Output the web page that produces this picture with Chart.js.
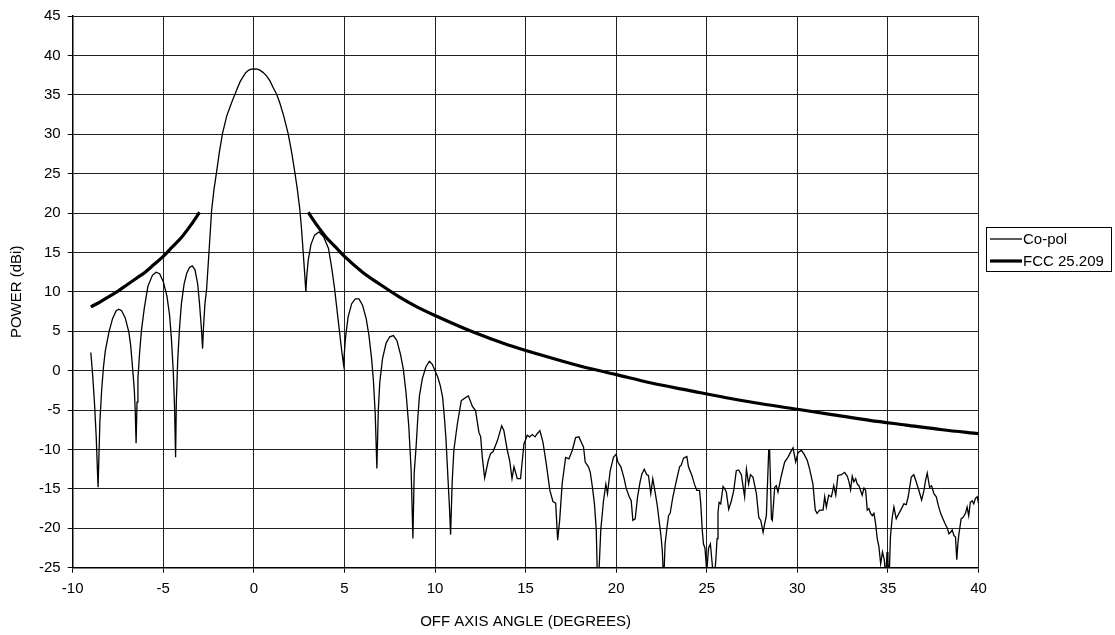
<!DOCTYPE html>
<html>
<head>
<meta charset="utf-8">
<script src="https://cdn.jsdelivr.net/npm/chart.js@4.4.0/dist/chart.umd.min.js"></script>
<style>
html,body{margin:0;padding:0;background:#fff;}
#wrap{width:1115px;height:635px;}
</style>
</head>
<body>
<div id="wrap"><canvas id="c" width="1115" height="635"></canvas></div>
<script>
// ---- data ----
const xTickValues = [-10,-5,0,5,10,15,20,25,30,35,40];
const yTickValues = [-25,-20,-15,-10,-5,0,5,10,15,20,25,30,35,40,45];

const copolX = [
-9.0,-8.9,-8.8,-8.7,-8.6,-8.5,-8.4,-8.3,-8.2,-8.0,-7.8,-7.6,-7.45,-7.3,-7.1,-6.9,-6.8,-6.7,-6.6,-6.55,-6.5,
-6.45,-6.4,-6.3,-6.2,-6.05,-5.85,-5.6,-5.4,-5.2,-5.0,-4.8,-4.65,-4.55,-4.45,-4.38,-4.32,
-4.28,-4.2,-4.1,-4.0,-3.85,-3.7,-3.55,-3.4,-3.25,-3.1,-3.0,-2.9,-2.83,
-2.78,-2.7,-2.61,-2.45,-2.33,-2.2,-2.06,-1.9,-1.73,-1.5,-1.23,-0.9,-0.75,-0.59,-0.45,-0.3,-0.15,0.05,0.2,0.35,0.5,0.7,0.88,1.05,1.25,1.43,1.65,1.89,2.08,2.26,2.4,2.54,2.63,2.72,2.8,2.87,
2.92,3.0,3.15,3.35,3.6,3.85,4.12,4.3,4.45,4.6,4.75,4.85,4.95,
5.05,5.2,5.4,5.6,5.8,6.0,6.2,6.35,6.5,6.6,6.7,6.79,
6.87,6.95,7.1,7.3,7.5,7.7,7.9,8.1,8.25,8.4,8.55,8.68,8.78,
8.85,8.96,9.05,9.14,9.3,9.5,9.69,9.85,10.0,10.15,10.3,10.42,10.52,10.6,10.7,10.8,10.86,
10.95,11.04,11.23,11.45,11.69,11.84,12.06,12.24,12.42,12.52,12.61,12.74,12.94,13.07,13.2,13.44,13.68,13.8,13.99,14.12,14.25,14.36,14.54,14.72,14.91,
15.09,15.22,15.37,15.52,15.64,15.79,15.96,16.14,16.34,16.51,16.66,16.77,16.88,17.02,17.21,17.39,17.58,17.76,17.94,18.1,18.2,18.29,18.47,18.57,18.69,18.8,18.9,18.97,19.05,19.15,19.3,19.43,19.52,19.67,19.85,
20.0,20.09,20.26,20.44,20.55,20.72,20.83,20.92,21.05,21.18,21.32,21.42,21.55,21.69,21.78,21.91,22.02,22.15,22.28,22.39,22.48,22.55,22.62,22.7,22.8,22.89,22.98,23.13,23.35,23.5,23.59,23.72,23.9,23.99,24.18,24.32,24.45,24.6,24.67,24.75,24.82,24.9,
25.0,25.1,25.2,25.3,25.4,25.5,25.57,25.62,25.68,25.77,25.9,25.99,26.08,26.21,26.36,26.49,26.63,26.76,26.91,27.09,27.19,27.31,27.41,27.55,27.74,27.87,27.98,28.11,28.2,28.29,28.42,28.47,28.57,28.62,28.75,28.84,28.93,29.12,29.3,29.48,29.61,29.76,29.91,
30.04,30.22,30.37,30.55,30.68,30.86,30.99,31.09,31.23,31.42,31.51,31.6,31.73,31.88,32.01,32.12,32.24,32.43,32.61,32.76,32.85,32.94,33.03,33.12,33.22,33.31,33.4,33.49,33.58,33.68,33.77,33.86,33.95,34.04,34.14,34.23,34.32,34.41,34.5,34.6,34.7,34.8,34.88,34.95,
35.0,35.06,35.14,35.24,35.33,35.46,35.61,35.75,35.88,36.01,36.12,36.2,36.29,36.43,36.56,36.71,36.86,36.99,37.08,37.17,37.3,37.41,37.54,37.67,37.78,37.91,38.0,38.15,38.28,38.37,38.46,38.55,38.64,38.73,38.8,38.86,38.91,39.04,39.15,39.28,39.37,39.46,39.55,39.65,39.74,39.83,39.93,40.0
];
const copolY = [
2.3,-0.5,-4,-8.5,-14.8,-6.5,-2.4,0.5,2.5,4.9,6.6,7.6,7.8,7.6,6.7,4.9,3.2,0.5,-2.4,-5,-9.2,
-4,-1,2.5,5.2,7.9,10.7,12.1,12.5,12.3,11.3,9.5,7,4,0,-4.5,-11,
-4,1.5,5.5,8.5,11,12.4,13.1,13.3,12.8,11,8.5,5.5,2.8,
5.5,8.5,10.3,16,20.4,23,25.2,27.8,30.1,32.3,34,35.9,36.7,37.3,37.8,38.1,38.25,38.3,38.25,38.1,37.85,37.4,36.8,36,35.1,34,32.3,30.1,27.8,25.2,23,20.4,18,15.1,12.5,10,
12,14,16,17.2,17.6,17,15.5,13,10.5,7.5,4.5,2.5,0.8,
4,6.8,8.5,9.1,9.1,8.3,6.6,4.5,1.5,-1.3,-5.5,-12.4,
-5,-1.5,1.5,3.5,4.3,4.45,3.8,2,0.2,-2.8,-7,-12.5,-21.3,
-13,-9.5,-6,-3.2,-1,0.5,1.2,0.8,0,-0.8,-2,-3.4,-6,-8.5,-13,-17.5,-20.8,
-14,-10.1,-6.8,-3.8,-3.4,-3.2,-4.5,-5.1,-7.8,-8.4,-11,-13.6,-11.4,-10.5,-10.3,-8.9,-7,-7.6,-10.1,-11.4,-13.7,-12.2,-13.7,-13.7,-9.3,
-8.2,-8.4,-8.1,-8.4,-8,-7.6,-9.1,-11.8,-15.2,-16.6,-16.8,-21.5,-19,-14.3,-11,-11.2,-10.1,-8.5,-8.4,-9.2,-9.7,-11.6,-12.2,-12.9,-14.8,-16.9,-20.2,-27,-25.5,-20.2,-16.5,-14.4,-15.6,-12.7,-11,
-10.6,-11.6,-12.2,-13.7,-14.9,-16,-16.5,-19,-18.8,-16,-14.1,-13.1,-12.5,-13.2,-13.3,-15.6,-13.7,-15.4,-17.3,-19.4,-21.1,-23,-27,-22,-20,-18.4,-18.1,-16,-13.7,-12.2,-12,-11.1,-10.9,-12.2,-13.3,-14.4,-15.2,-15.2,-16.9,-20.2,-22,-22.5,
-25.5,-22.5,-22,-24.5,-27,-24,-21.3,-18,-16.7,-16.9,-14.7,-15,-15.4,-17.6,-16.5,-15.2,-12.7,-12.6,-13.2,-16,-12.5,-14.4,-13.2,-13.5,-15.6,-18.6,-19,-20.5,-19.4,-18.4,-10.1,-10.1,-18.8,-19,-14.8,-14.6,-15.4,-13.3,-11.6,-11,-10.4,-9.8,-11.6,
-10.4,-10.1,-10.6,-11.4,-12.5,-14.4,-17.7,-18.1,-17.7,-17.7,-16,-17.3,-15.8,-16,-14.6,-15.8,-13.3,-13.2,-12.9,-13.4,-14.1,-15.1,-13.4,-14.1,-13.7,-14.4,-14.6,-15.2,-15.8,-14.9,-15.2,-17.7,-17.5,-18.1,-18.4,-18.1,-19.4,-21.3,-22.3,-24.5,-23,-24,-26.5,-23,
-24,-27,-21,-18.6,-17.3,-18.8,-18.1,-17.5,-16.9,-17,-16,-14.8,-13.5,-13.2,-14.1,-15.2,-16.4,-15.2,-13.9,-13,-14.8,-14.6,-15.6,-16,-17.1,-18.1,-18.6,-19.4,-20,-20.7,-20.5,-20.2,-20.9,-21.1,-24,-22,-20.9,-18.8,-18.6,-18.1,-17.3,-18.4,-16.7,-16.5,-16.9,-16.2,-16,-16.8
];

const fccLeftX  = [-9,-8.5,-8,-7.5,-7,-6.5,-6,-5.5,-5,-4.5,-4,-3.5,-3];
const fccLeftY  = [8.1,8.7,9.4,10.1,10.9,11.7,12.5,13.5,14.5,15.7,16.9,18.4,20.1];
const fccRightX = [3,3.5,4,4.5,5,6,7,8,9,10,12,14,16,18,20,22,24,26,28,30,32,34,36,38,40];
const fccRightY = [20.1,18.4,16.9,15.7,14.5,12.5,10.9,9.4,8.1,7.0,5.0,3.3,1.9,0.6,-0.5,-1.6,-2.5,-3.4,-4.2,-4.9,-5.6,-6.3,-6.9,-7.5,-8.0];

const seriesNames = ['Co-pol','FCC 25.209'];

// ---- build chart ----
const FONT = "'Liberation Sans', Arial, sans-serif";
const copolData = copolX.map((x,i)=>({x:x,y:copolY[i]}));
const fccData = fccLeftX.map((x,i)=>({x:x,y:fccLeftY[i]}))
  .concat([{x:0,y:null}])
  .concat(fccRightX.map((x,i)=>({x:x,y:fccRightY[i]})));

const boxLegend = {
  id:'boxLegend',
  afterDraw(chart){
    const ctx = chart.ctx;
    const L = 986.5, T = 227.5, R = 1111.5, B = 271.5;
    ctx.save();
    ctx.strokeStyle = '#000'; ctx.lineWidth = 1;
    ctx.strokeRect(L, T, R-L, B-T);
    ctx.font = '15px ' + FONT;
    ctx.fillStyle = '#000';
    ctx.textBaseline = 'middle';
    const rows = [239, 261];
    chart.data.datasets.forEach((ds,i)=>{
      ctx.beginPath();
      ctx.lineWidth = ds.borderWidth;
      ctx.moveTo(990, rows[i]); ctx.lineTo(1022, rows[i]);
      ctx.stroke();
      ctx.fillText(ds.label, 1023, rows[i]+1);
    });
    ctx.restore();
  }
};

new Chart(document.getElementById('c'), {
  type:'line',
  data:{
    datasets:[
      {label:seriesNames[0], data:copolData, borderColor:'#000', borderWidth:1.3, pointRadius:0, tension:0, fill:false},
      {label:seriesNames[1], data:fccData, borderColor:'#000', borderWidth:3.2, pointRadius:0, cubicInterpolationMode:'monotone', spanGaps:false, fill:false}
    ]
  },
  options:{
    responsive:false,
    animation:false,
    events:[],
    layout:{padding:{top:13.3,right:136.5,left:0,bottom:0}},
    plugins:{legend:{display:false}, tooltip:{enabled:false}},
    scales:{
      x:{
        type:'linear', min:-10, max:40,
        afterBuildTicks(s){ s.ticks = xTickValues.map(v=>({value:v})); },
        afterFit(s){ s.height = 67.3; },
        grid:{color:'#222', lineWidth:1, tickLength:5, tickColor:'#000', drawTicks:true},
        border:{color:'#000', width:1.5},
        ticks:{color:'#000', font:{family:FONT,size:15}, padding:7, maxRotation:0, autoSkip:false},
        title:{display:true, text:'OFF AXIS ANGLE (DEGREES)', color:'#000', font:{family:FONT,size:15}, padding:{top:0,bottom:4}}
      },
      y:{
        type:'linear', min:-25, max:45,
        afterBuildTicks(s){ s.ticks = yTickValues.map(v=>({value:v})); },
        afterFit(s){ s.width = 72.7; },
        grid:{color:'#222', lineWidth:1, tickLength:5, tickColor:'#000', drawTicks:true},
        border:{color:'#000', width:1.5},
        ticks:{color:'#000', font:{family:FONT,size:15}, padding:7, autoSkip:false},
        title:{display:true, text:'POWER (dBi)', color:'#000', font:{family:FONT,size:15}, padding:{top:8,bottom:0}}
      }
    }
  },
  plugins:[boxLegend]
});
</script>
</body>
</html>
